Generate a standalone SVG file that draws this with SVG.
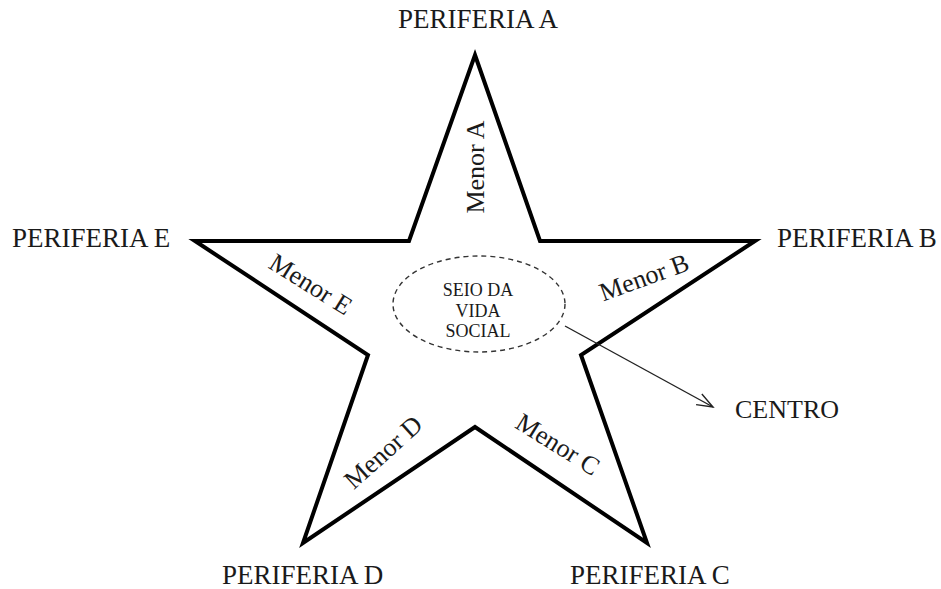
<svg xmlns="http://www.w3.org/2000/svg" width="941" height="589" viewBox="0 0 941 589">
<style>
.lbl{font-family:"Liberation Serif","Times New Roman",serif;font-size:27px;fill:#1a1a1a}
.mn{font-family:"Liberation Serif","Times New Roman",serif;font-size:26px;fill:#1a1a1a;text-anchor:middle}
.sm{font-family:"Liberation Serif","Times New Roman",serif;font-size:18px;fill:#1a1a1a;text-anchor:middle}
.star{fill:none;stroke:#000;stroke-width:4;stroke-linejoin:miter;stroke-miterlimit:10}
.conn{fill:none;stroke:#222;stroke-width:1.4}
</style>
<defs>
<marker id="open" markerUnits="userSpaceOnUse" markerWidth="20" markerHeight="20" viewBox="-18 -10 20 20" refX="0" refY="0" orient="auto">
<path d="M-16,-6 L0,0 L-16,6" fill="none" stroke="#222" stroke-width="1.4"/>
</marker>
</defs>
<rect width="941" height="589" fill="#fff"/>
<g id="star">
<polygon class="star" points="475,55 540,241 755,241 581,355 647,543 475,427 303,543 368,355 195,241 409,241"/>
</g>
<g id="menor-a"><text class="mn" transform="translate(484,167) rotate(-90)" x="0" y="0">Menor A</text></g>
<g id="menor-b"><text class="mn" transform="translate(644,277) rotate(-20)" x="0" y="9">Menor B</text></g>
<g id="menor-c"><text class="mn" transform="translate(558,444) rotate(32)" x="0" y="9">Menor C</text></g>
<g id="menor-d"><text class="mn" transform="translate(383,452) rotate(-42)" x="0" y="9">Menor D</text></g>
<g id="menor-e"><text class="mn" transform="translate(311,284) rotate(32)" x="0" y="9">Menor E</text></g>
<g id="seio">
<ellipse cx="479" cy="304" rx="86" ry="48" fill="none" stroke="#333" stroke-width="1.4" stroke-dasharray="5,4"/>
<text class="sm" x="478" y="296">SEIO DA</text>
<text class="sm" x="478" y="317">VIDA</text>
<text class="sm" x="478" y="337">SOCIAL</text>
</g>
<g id="periferia-a"><text class="lbl" x="478" y="28" text-anchor="middle">PERIFERIA A</text></g>
<g id="periferia-b"><text class="lbl" x="777" y="247">PERIFERIA B</text></g>
<g id="periferia-c"><text class="lbl" x="570" y="584">PERIFERIA C</text></g>
<g id="periferia-d"><text class="lbl" x="222" y="584">PERIFERIA D</text></g>
<g id="periferia-e"><text class="lbl" x="12" y="247">PERIFERIA E</text></g>
<g id="centro"><text class="lbl" x="735" y="418" style="font-size:26px">CENTRO</text></g>
<g id="connectors">
<line class="conn" x1="565" y1="326" x2="713" y2="407" marker-end="url(#open)"/>
</g>
</svg>
